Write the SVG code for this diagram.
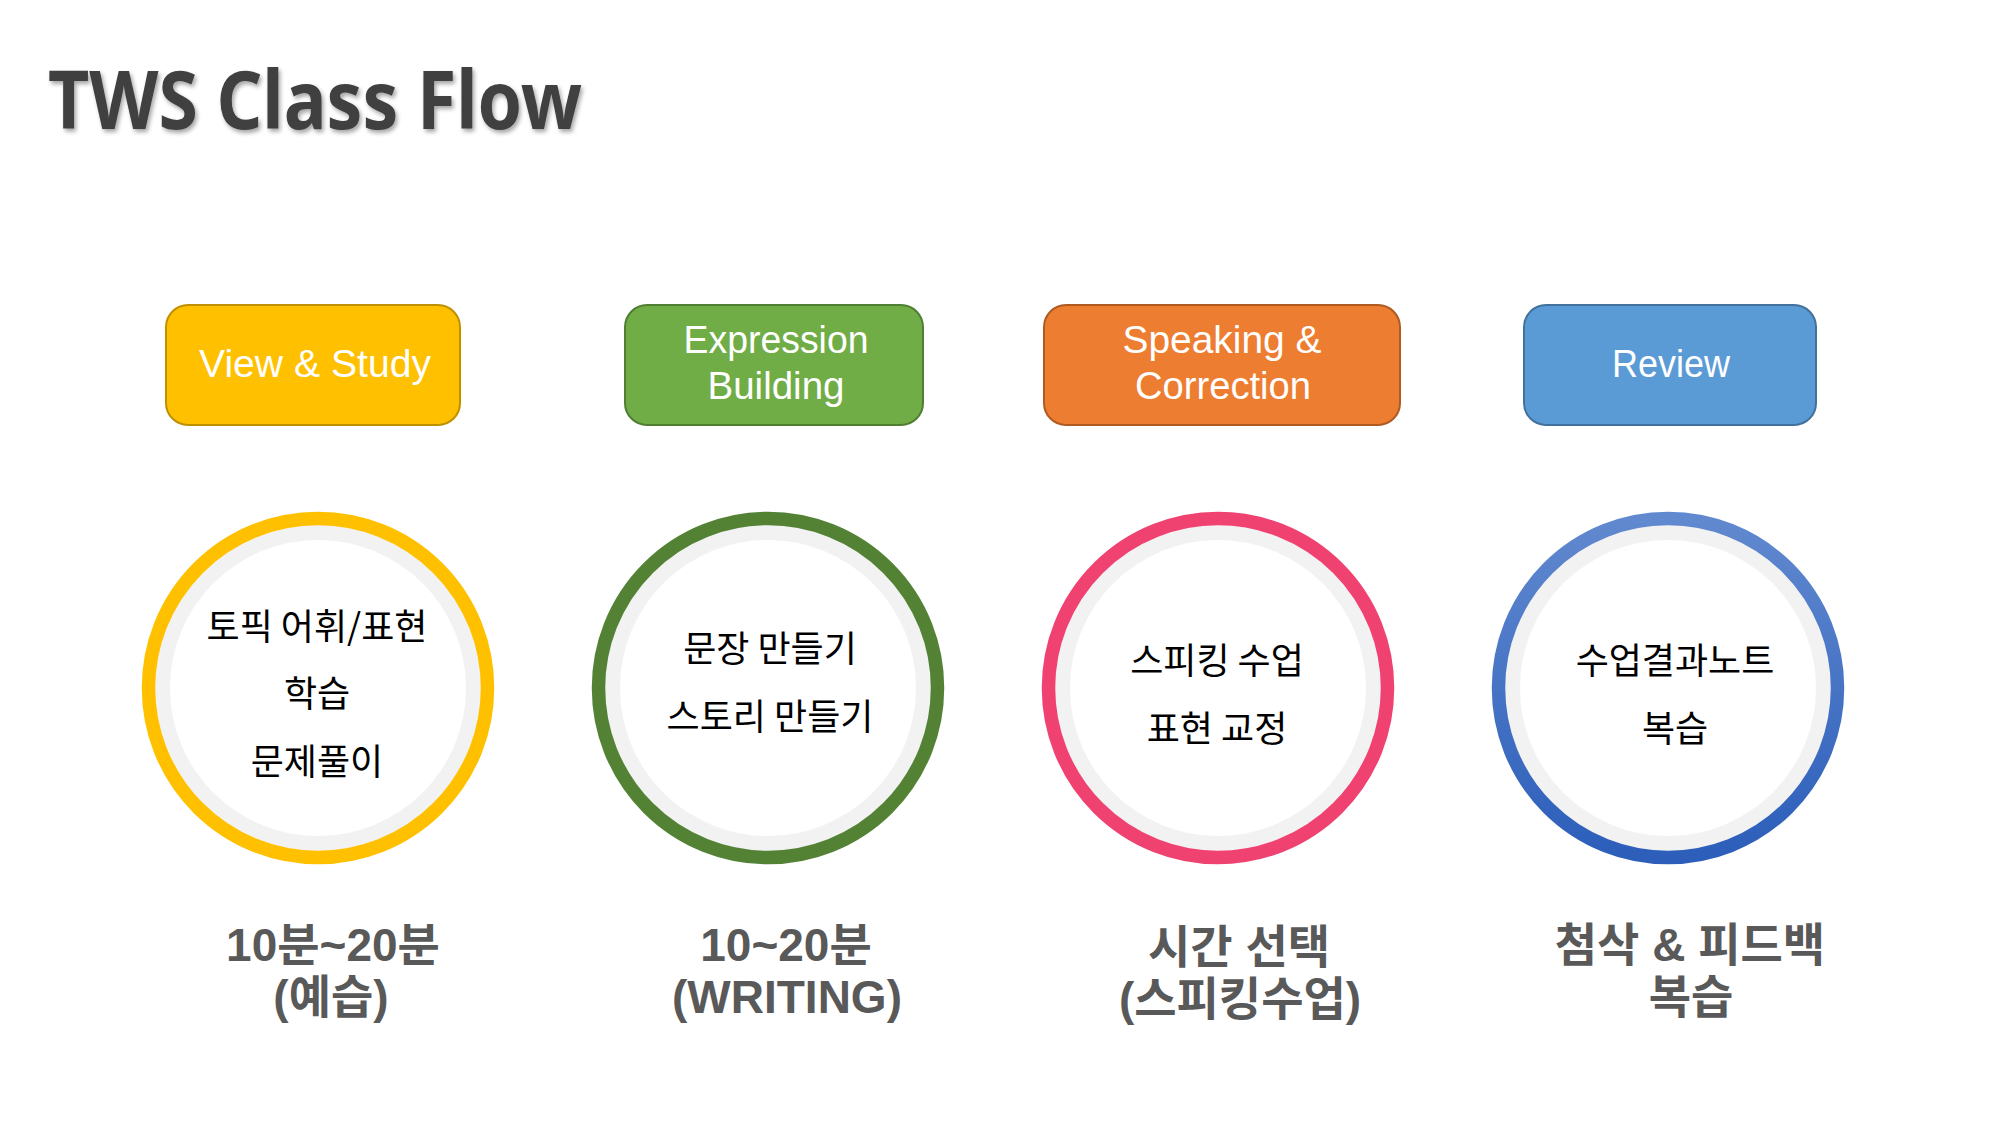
<svg xmlns="http://www.w3.org/2000/svg" width="2007" height="1125" viewBox="0 0 2007 1125">
<defs>
<style>
.title{font-family:"Noto Sans","Liberation Sans",sans-serif;font-weight:bold;font-size:80px;fill:#404040}
.btxt{font-family:"Liberation Sans","Noto Sans",sans-serif;font-size:39px;fill:#ffffff;text-anchor:middle}
.ctxt{font-family:"Noto Sans CJK KR","Noto Sans",sans-serif;font-size:36px;fill:#000000;text-anchor:middle}
.ltxt{font-family:"Liberation Sans","Noto Sans CJK KR",sans-serif;font-weight:bold;font-size:46px;fill:#595959;text-anchor:middle}
.band{fill:#F2F2F2}
.inner{fill:#FFFFFF}
.ring{fill:none;stroke-width:13.5}
.box{stroke-width:2}
</style>
<filter id="shadow" x="-5%" y="-20%" width="110%" height="140%">
<feDropShadow dx="2" dy="3" stdDeviation="2" flood-color="#000" flood-opacity="0.35"/>
</filter>
<linearGradient id="blueGrad" x1="0" y1="0" x2="0" y2="1">
<stop offset="0" stop-color="#6189CF"/>
<stop offset="1" stop-color="#2C5EBA"/>
</linearGradient>
</defs>
<rect width="2007" height="1125" fill="#FFFFFF"/>
<text class="title" x="48" y="129" textLength="534" lengthAdjust="spacingAndGlyphs" filter="url(#shadow)">TWS Class Flow</text>

<g id="box-view-study">
<rect class="box" x="166" y="305" width="294" height="120" rx="22" fill="#FFC000" stroke="#BF9000"/>
<text class="btxt" x="315" y="377" textLength="232" lengthAdjust="spacingAndGlyphs">View &amp; Study</text>
</g>
<g id="box-expression-building">
<rect class="box" x="625" y="305" width="298" height="120" rx="22" fill="#70AD47" stroke="#507E32"/>
<text class="btxt" x="776" y="353" textLength="185" lengthAdjust="spacingAndGlyphs">Expression</text>
<text class="btxt" x="776" y="399" textLength="137" lengthAdjust="spacingAndGlyphs">Building</text>
</g>
<g id="box-speaking-correction">
<rect class="box" x="1044" y="305" width="356" height="120" rx="22" fill="#ED7D31" stroke="#AE5A21"/>
<text class="btxt" x="1222" y="353" textLength="199" lengthAdjust="spacingAndGlyphs">Speaking &amp;</text>
<text class="btxt" x="1223" y="399" textLength="176" lengthAdjust="spacingAndGlyphs">Correction</text>
</g>
<g id="box-review">
<rect class="box" x="1524" y="305" width="292" height="120" rx="22" fill="#5B9BD5" stroke="#41719C"/>
<text class="btxt" x="1671" y="377" textLength="118" lengthAdjust="spacingAndGlyphs">Review</text>
</g>

<g id="circle-1">
<circle class="band" cx="318" cy="688" r="163"/>
<circle class="inner" cx="318" cy="688" r="148"/>
<circle class="ring" cx="318" cy="688" r="169.5" stroke="#FFC000"/>
<text class="ctxt" x="317" y="640">토픽 어휘/표현</text>
<text class="ctxt" x="317" y="707">학습</text>
<text class="ctxt" x="317" y="775">문제풀이</text>
</g>
<g id="circle-2">
<circle class="band" cx="768" cy="688" r="163"/>
<circle class="inner" cx="768" cy="688" r="148"/>
<circle class="ring" cx="768" cy="688" r="169.5" stroke="#548235"/>
<text class="ctxt" x="770" y="662">문장 만들기</text>
<text class="ctxt" x="770" y="730">스토리 만들기</text>
</g>
<g id="circle-3">
<circle class="band" cx="1218" cy="688" r="163"/>
<circle class="inner" cx="1218" cy="688" r="148"/>
<circle class="ring" cx="1218" cy="688" r="169.5" stroke="#EF4270"/>
<text class="ctxt" x="1217" y="674">스피킹 수업</text>
<text class="ctxt" x="1217" y="742">표현 교정</text>
</g>
<g id="circle-4">
<circle class="band" cx="1668" cy="688" r="163"/>
<circle class="inner" cx="1668" cy="688" r="148"/>
<circle class="ring" cx="1668" cy="688" r="169.5" stroke="url(#blueGrad)"/>
<text class="ctxt" x="1675" y="674">수업결과노트</text>
<text class="ctxt" x="1675" y="742">복습</text>
</g>

<g id="label-1">
<text class="ltxt" x="333" y="961">10분~20분</text>
<text class="ltxt" x="331" y="1013">(예습)</text>
</g>
<g id="label-2">
<text class="ltxt" x="786" y="961">10~20분</text>
<text class="ltxt" x="787" y="1013">(WRITING)</text>
</g>
<g id="label-3">
<text class="ltxt" x="1239" y="963">시간 선택</text>
<text class="ltxt" x="1240" y="1015">(스피킹수업)</text>
</g>
<g id="label-4">
<text class="ltxt" x="1690" y="961">첨삭 &amp; 피드백</text>
<text class="ltxt" x="1691" y="1013">복습</text>
</g>
<g id="connectors"/>
</svg>
